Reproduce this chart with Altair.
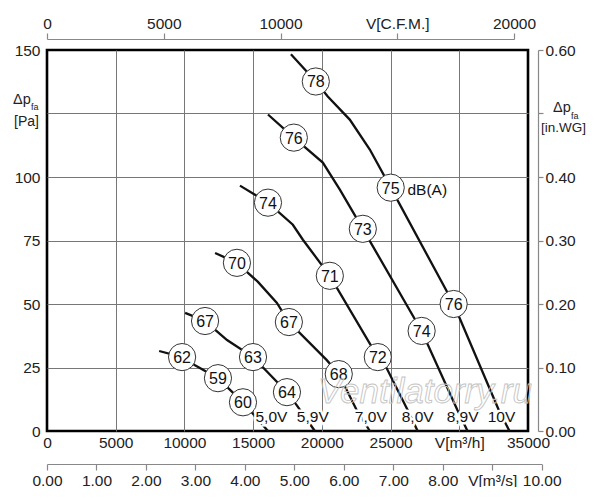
import altair as alt
import pandas as pd

FONT = "Liberation Sans"

# ---- fan curves: flow V [m3/h] and static pressure dp [Pa] per supply voltage
volts = ["5,0V", "5,9V", "7,0V", "8,0V", "8,9V", "10V"]
v50_q = [8160, 9830, 10770, 12440, 14260, 16080]
v50_p = [31.5, 29.1, 25.9, 20.8, 11.3, 0.0]
v59_q = [10050, 11500, 13100, 14990, 17460, 18180, 19490]
v59_p = [46.5, 43.3, 35.8, 29.1, 15.3, 10.1, 0.0]
v70_q = [12230, 13820, 15350, 16730, 17600, 20360, 21230, 22540, 23490]
v70_p = [70.1, 66.2, 58.7, 50.4, 42.9, 27.9, 22.4, 8.2, 0.0]
v80_q = [14040, 16080, 17890, 18620, 20580, 24070, 24720, 26250, 26970]
v80_p = [96.6, 89.9, 81.2, 75.3, 61.1, 29.1, 24.7, 8.2, 0.0]
v89_q = [16080, 17960, 20070, 21310, 22980, 27260, 29870, 30600]
v89_p = [124.6, 115.5, 105.7, 95.0, 79.6, 39.4, 8.2, 0.0]
v10_q = [17750, 19560, 20430, 22030, 23490, 25010, 29590, 32880, 33650]
v10_p = [148.3, 137.6, 131.7, 122.6, 110.8, 95.8, 50.0, 8.2, 0.0]

# ---- noise level bubbles dB(A)
db_q = [19560, 25010, 29590, 17960, 22980, 27260, 16080, 20580, 24070,
        13820, 17600, 21230, 11500, 14990, 17460, 9830, 12440, 14260]
db_p = [137.6, 95.8, 50.0, 115.5, 79.6, 39.4, 89.9, 61.1, 29.1,
        66.2, 42.9, 22.4, 43.3, 29.1, 15.3, 29.1, 20.8, 11.3]
db_txt = ["78", "75", "76", "76", "73", "74", "74", "71", "72",
          "70", "67", "68", "67", "63", "64", "62", "59", "60"]

# ---- voltage labels at the curve feet
volt_q = [16330, 19340, 23560, 26970, 30240, 33070]
volt_p = [5.4, 5.4, 5.4, 5.4, 5.4, 5.4]

# ---- axis ticks
m3h_ticks = [0, 5000, 10000, 15000, 20000, 25000, 30000, 35000]
pa_ticks = [0, 25, 50, 75, 100, 125, 150]
cfm_ticks = [0, 5000, 10000, 15000, 20000]
ms_ticks = [0, 1, 2, 3, 4, 5, 6, 7, 8, 9, 10]
inwg_ticks = [0.0, 0.1, 0.2, 0.3, 0.4, 0.5, 0.6]

W, H = 481, 381

curves = pd.concat([
    pd.DataFrame({"q": q, "p": p, "v": v, "o": list(range(len(q)))})
    for v, q, p in zip(volts, [v50_q, v59_q, v70_q, v80_q, v89_q, v10_q],
                       [v50_p, v59_p, v70_p, v80_p, v89_p, v10_p])
])
bubbles = pd.DataFrame({"q": db_q, "p": db_p, "t": db_txt})
vlabels = pd.DataFrame({"q": volt_q, "p": volt_p, "t": volts})

xs = alt.Scale(domain=[0, 35000], nice=False, zero=False)
ys = alt.Scale(domain=[0, 150], nice=False, zero=False)

x_axis = alt.Axis(
    orient="bottom", values=m3h_ticks, format="d", title=None,
    labelExpr="datum.value == 30000 ? 'V[m³/h]' : datum.label",
    domain=False, ticks=False, labelPadding=4, labelFlush=False, labelOverlap=False,
    grid=True, gridColor="#777", gridWidth=1,
    gridOpacity={"condition": {"test": "datum.value == 0 || datum.value == 35000", "value": 0}, "value": 1},
)
y_axis = alt.Axis(
    orient="left", values=pa_ticks, title=None,
    labelExpr="datum.value == 125 ? '' : datum.label",
    domain=False, ticks=False, labelPadding=7, labelFlush=False, labelOverlap=False,
    grid=True, gridColor="#777", gridWidth=1,
    gridOpacity={"condition": {"test": "datum.value == 0 || datum.value == 150", "value": 0}, "value": 1},
)

lines = alt.Chart(curves).mark_line(color="#111", strokeWidth=2.3).encode(
    x=alt.X("q:Q", scale=xs, axis=x_axis),
    y=alt.Y("p:Q", scale=ys, axis=y_axis),
    detail="v:N", order="o:Q",
)
circles = alt.Chart(bubbles).mark_point(
    shape="circle", filled=True, fill="white", stroke="#333", strokeWidth=1,
    size=740, opacity=1,
).encode(x=alt.X("q:Q", scale=xs), y=alt.Y("p:Q", scale=ys))
nums = alt.Chart(bubbles).mark_text(font=FONT, fontSize=16, color="#111", dy=1).encode(
    x=alt.X("q:Q", scale=xs), y=alt.Y("p:Q", scale=ys), text="t:N")
halo = alt.Chart(vlabels).mark_text(
    font=FONT, fontSize=15.5, color="white", stroke="white", strokeWidth=5).encode(
    x=alt.X("q:Q", scale=xs), y=alt.Y("p:Q", scale=ys), text="t:N")
vtext = alt.Chart(vlabels).mark_text(font=FONT, fontSize=15.5, color="#111").encode(
    x=alt.X("q:Q", scale=xs), y=alt.Y("p:Q", scale=ys), text="t:N")
dba = alt.Chart(pd.DataFrame({"q": [26230], "p": [95.0], "t": ["dB(A)"]})).mark_text(
    font=FONT, fontSize=15.5, color="#111", align="left").encode(
    x=alt.X("q:Q", scale=xs), y=alt.Y("p:Q", scale=ys), text="t:N")


def annot(text, x, y, size, align="left", **kw):
    return alt.Chart(pd.DataFrame({"t": [text]})).mark_text(
        font=FONT, fontSize=size, color="#222", align=align, baseline="alphabetic", **kw
    ).encode(x=alt.value(x), y=alt.value(y), text="t:N")


watermark = annot("Ventilatorry.ru", 378, 353, 35, align="center", fontStyle="italic",
                  fillOpacity=0, stroke="#c4c4c4", strokeWidth=0.9)

ann = [
    annot("Δp", -34, 54, 14.5),
    annot("fa", -16, 60, 9),
    annot("[Pa]", -33, 76, 14),
    annot("Δp", 506, 62, 14.5),
    annot("fa", 524, 69, 9),
    annot("[in.WG]", 494, 82, 13.5),
]

inner = alt.layer(lines, circles, nums, halo, vtext, dba, watermark, *ann)

sec_style = dict(title=None, domainColor="#888", tickColor="#888", domainWidth=1.2,
                 tickWidth=1.2, grid=False, labelFlush=False, labelOverlap=False)

cfm_layer = alt.Chart(pd.DataFrame({"cfm": cfm_ticks})).mark_point(opacity=0).encode(
    x=alt.X("cfm:Q", scale=alt.Scale(domain=[0, 20000], range=[0, 467.0], nice=False),
            axis=alt.Axis(orient="top", values=cfm_ticks, format="d", offset=11, tickSize=6,
                          labelPadding=2,
                          labelExpr="datum.value == 15000 ? 'V[C.F.M.]' : datum.label",
                          **sec_style)))
ms_layer = alt.Chart(pd.DataFrame({"ms": ms_ticks})).mark_point(opacity=0).encode(
    x=alt.X("ms:Q", scale=alt.Scale(domain=[0, 10], range=[0, 494.7], nice=False),
            axis=alt.Axis(orient="bottom", values=ms_ticks, format=".2f", offset=33, tickSize=6,
                          labelPadding=3,
                          labelExpr="datum.value == 9 ? 'V[m³/s]' : datum.label",
                          **sec_style)))
wg_layer = alt.Chart(pd.DataFrame({"wg": inwg_ticks})).mark_point(opacity=0).encode(
    y=alt.Y("wg:Q", scale=alt.Scale(domain=[0, 0.6], nice=False),
            axis=alt.Axis(orient="right", values=inwg_ticks, format=".2f", offset=10, tickSize=5,
                          labelPadding=2,
                          labelExpr="datum.value == 0.5 ? '' : datum.label",
                          **sec_style)))

chart = alt.layer(inner, cfm_layer, ms_layer, wg_layer).resolve_scale(
    x="independent", y="independent"
).properties(
    width=W, height=H,
    autosize=alt.AutoSizeParams(type="none"),
    padding={"left": 39, "top": 42, "right": 62, "bottom": 56},
    background="white",
).configure_view(
    stroke="black", strokeWidth=2.6
).configure_axis(
    labelFont=FONT, labelFontSize=15.5, labelColor="#222"
)

chart.save("out.html", embed_options={"renderer": "svg", "actions": False})
